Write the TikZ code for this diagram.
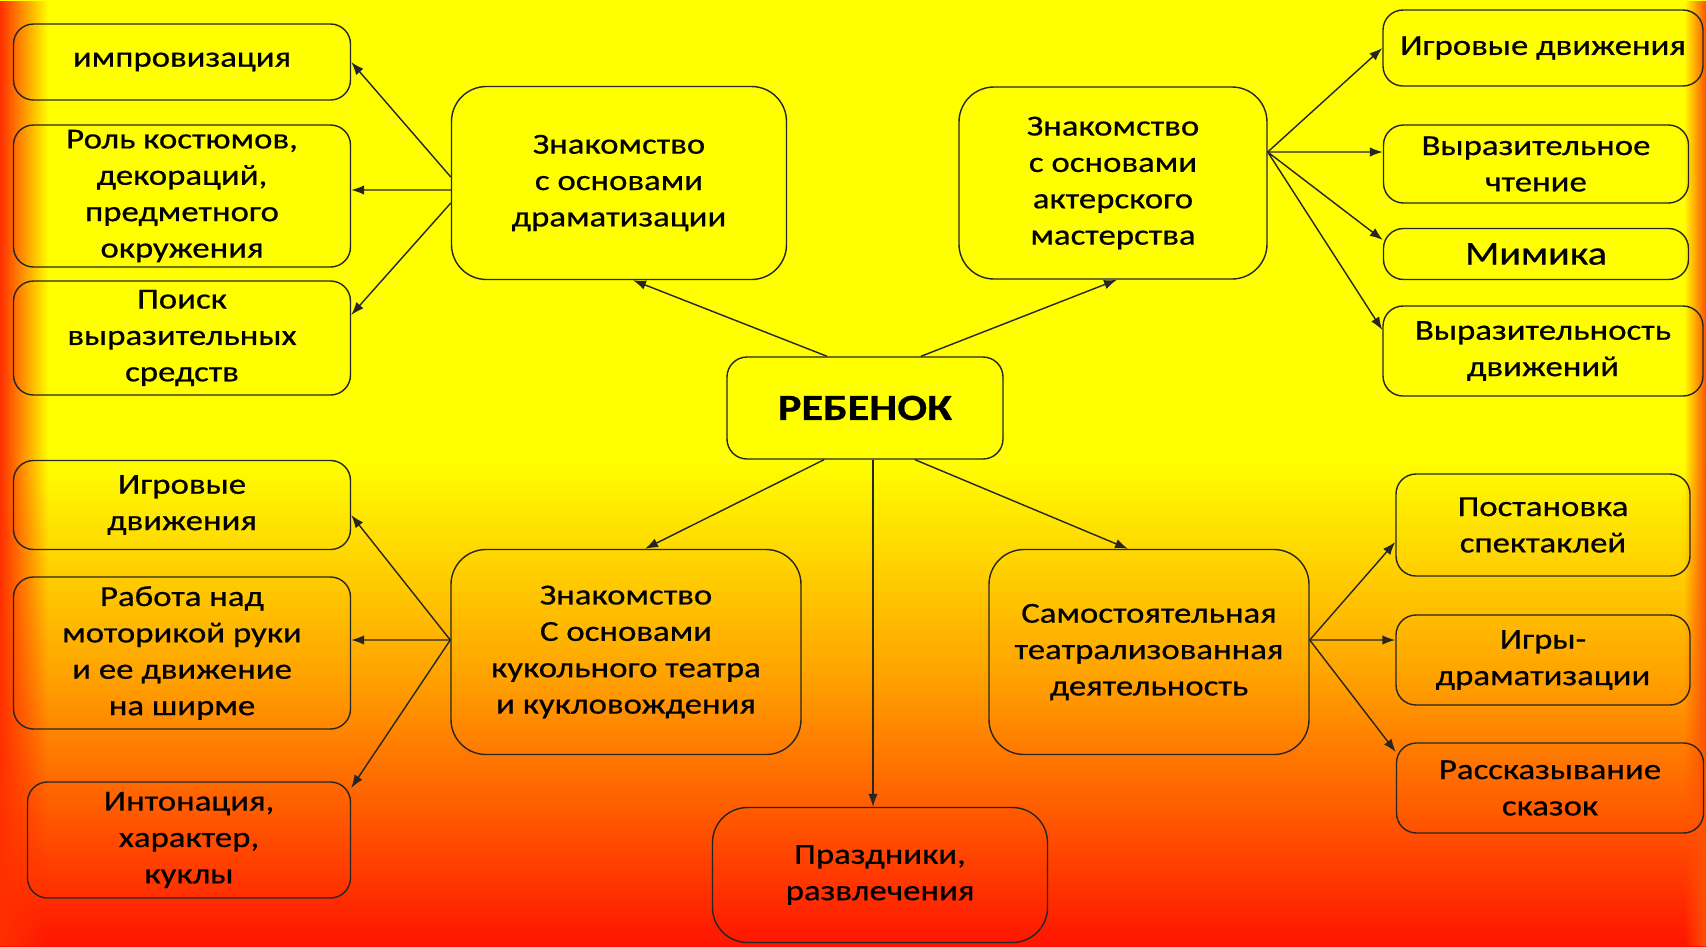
\documentclass[tikz,border=0pt]{standalone}
\usepackage{fontspec}
\setmainfont{Carlito}[FakeStretch=1.2,FakeBold=0.6]
\usetikzlibrary{arrows.meta,fadings}

\definecolor{bgyellow}{HTML}{FFFF00}
\definecolor{bgorange}{HTML}{FFA000}
\definecolor{bgred}{HTML}{FF1400}
\definecolor{edgered}{HTML}{FF3000}

\tikzfading[name=fadeleft, left color=transparent!0, right color=transparent!100]
\tikzfading[name=faderight, left color=transparent!100, right color=transparent!0]

\tikzset{
  topic/.style={draw=black!85, line width=0.8pt, rounded corners=4mm, align=center,
    inner sep=0pt, font=\fontsize{16.5}{20.7}\selectfont},
  bigtopic/.style={topic, rounded corners=7mm},
  link/.style={-{Latex[length=2.6mm,width=1.9mm]}, line width=0.8pt, black!85},
}

\begin{document}
\begin{tikzpicture}[x=0.2mm,y=-0.2mm]
    \useasboundingbox (0,0) rectangle (1706,946);

    % Background
    \fill[bgyellow] (0,0) rectangle (1706,461);
    \shade[top color=bgyellow, bottom color=bgorange] (0,460) rectangle (1706,681);
    \shade[top color=bgorange, bottom color=bgred] (0,680) rectangle (1706,946);
    \fill[edgered, path fading=fadeleft] (0,0) rectangle (48,946);
    \fill[edgered!70!bgorange, path fading=faderight] (1684,0) rectangle (1706,946);

    % Centre
    \node[topic, minimum width=55.2mm, minimum height=20.4mm,
      font=\fontsize{21}{25}\selectfont\bfseries] (child) at (865,408) {РЕБЕНОК};

    % Main topics
    \node[bigtopic, minimum width=67mm, minimum height=38.6mm] (drama) at (619,183)
      {Знакомство\\с основами\\драматизации};
    \node[bigtopic, minimum width=61.6mm, minimum height=38.4mm] (actor) at (1113,183)
      {Знакомство\\с основами\\актерского\\мастерства};
    \node[bigtopic, minimum width=70mm, minimum height=41mm] (puppet) at (626,652)
      {Знакомство\\С основами\\кукольного театра\\и кукловождения};
    \node[bigtopic, minimum width=64mm, minimum height=41mm] (self) at (1149,652)
      {Самостоятельная\\театрализованная\\деятельность};
    \node[bigtopic, minimum width=67mm, minimum height=27mm] (fest) at (880,875)
      {Праздники,\\развлечения};

    % Left column
    \node[topic, minimum width=67.4mm, minimum height=15.2mm] (impro) at (182,62) {импровизация};
    \node[topic, minimum width=67.4mm, minimum height=28.4mm] (costume) at (182,196)
      {Роль костюмов,\\декораций,\\предметного\\окружения};
    \node[topic, minimum width=67.4mm, minimum height=22.8mm] (search) at (182,338)
      {Поиск\\выразительных\\средств};
    \node[topic, minimum width=67.4mm, minimum height=17.8mm] (moves) at (182,505)
      {Игровые\\движения};
    \node[topic, minimum width=67.4mm, minimum height=30.4mm] (hand) at (182,653)
      {Работа над\\моторикой руки\\и ее движение\\на ширме};
    \node[topic, minimum width=64.6mm, minimum height=23.2mm] (tone) at (189,840)
      {Интонация,\\характер,\\куклы};

    % Right column
    \node[topic, minimum width=64mm, minimum height=15.2mm] (play) at (1543,48) {Игровые движения};
    \node[topic, minimum width=61mm, minimum height=15.6mm] (reading) at (1536,164)
      {Выразительное\\чтение};
    \node[topic, minimum width=61mm, minimum height=10.2mm,
      font=\fontsize{19}{22}\selectfont] (mimic) at (1536,254) {Мимика};
    \node[topic, minimum width=64mm, minimum height=18mm] (express) at (1543,351)
      {Выразительность\\движений};
    \node[topic, minimum width=58.8mm, minimum height=20.4mm] (staging) at (1543,525)
      {Постановка\\спектаклей};
    \node[topic, minimum width=58.8mm, minimum height=18mm] (games) at (1543,660)
      {Игры-\\драматизации};
    \node[topic, minimum width=61.4mm, minimum height=18mm] (tales) at (1550,788)
      {Рассказывание\\сказок};

    % From the child
    \draw[link] ([xshift=-7.6mm]child.north) -- ([xshift=2.8mm]drama.south);
    \draw[link] ([xshift=11.2mm]child.north) -- ([xshift=0.8mm]actor.south);
    \draw[link] ([xshift=-8.2mm]child.south) -- ([xshift=3.8mm]puppet.north);
    \draw[link] ([xshift=10mm]child.south) -- ([xshift=-4.2mm]self.north);
    \draw[link] ([xshift=1.6mm]child.south) -- ([xshift=1.6mm]child.south |- fest.north);

    % Dramatization
    \draw[link] ([yshift=1.2mm]drama.west) -- (impro.east);
    \draw[link] ([yshift=-1.4mm]drama.west) -- ([yshift=1.2mm]costume.east);
    \draw[link] ([yshift=-4mm]drama.west) -- ([yshift=4.6mm]search.east);

    % Acting
    \foreach \t/\s in {play/0mm, reading/2.4mm, mimic/2.8mm, express/4.2mm}
      \draw[link] ([yshift=6.2mm]actor.east) -- ([yshift=\s]\t.west);

    % Puppets
    \foreach \t/\s in {moves/-2mm, hand/2.6mm, tone/10.4mm}
      \draw[link] ([yshift=2.4mm]puppet.west) -- ([yshift=\s]\t.east);

    % Own activity
    \foreach \t/\s in {staging/-3.4mm, games/4mm, tales/7.2mm}
      \draw[link] ([yshift=2.4mm]self.east) -- ([yshift=\s]\t.west);

\end{tikzpicture}
\end{document}
